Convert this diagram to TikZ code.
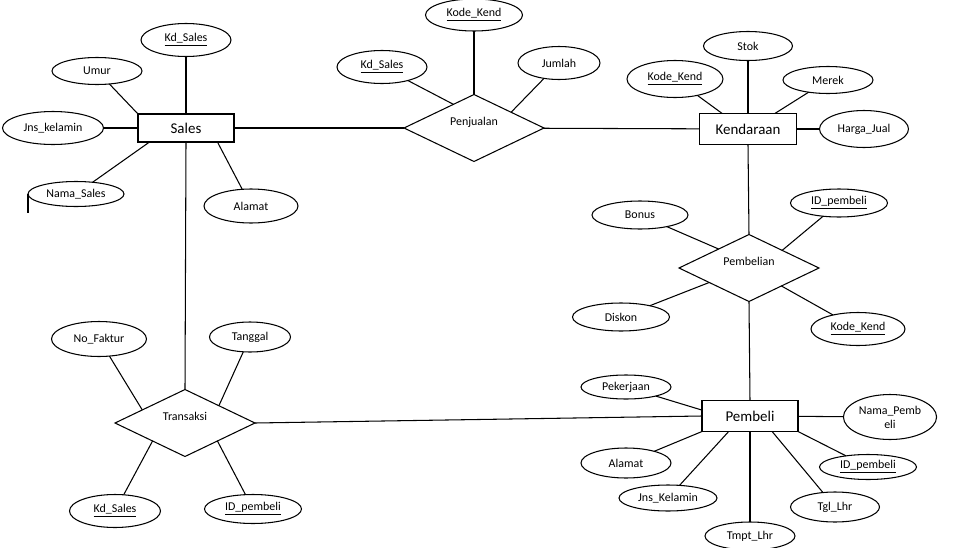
\documentclass[tikz,border=0pt]{standalone}
\usepackage{fontspec}
\setmainfont{Carlito}
\usepackage{tikz}
\usetikzlibrary{shapes.geometric}

\begin{document}
\begin{tikzpicture}[
    x=0.02cm, y=-0.02cm,
    line width=0.6pt,
    entity/.style={draw, rectangle, outer sep=0pt, font=\fontsize{8.5}{10}\selectfont},
    attr/.style={draw, ellipse, inner sep=1pt, outer sep=0pt, align=center,
      font=\fontsize{6.8}{8}\selectfont},
    rel/.style={draw, diamond, aspect=2, inner sep=0pt, outer sep=0pt,
      minimum width=2.8cm, minimum height=1.34cm, text depth=0.26cm,
      font=\fontsize{6.8}{8}\selectfont},
    sz/.style 2 args={minimum width=#1*0.02cm, minimum height=#2*0.02cm}
]
\useasboundingbox (0,0) rectangle (961,548);

\node (sales) [entity, sz={96}{28}] at (186,128) {Sales};
\node (kend) [entity, sz={97}{31}] at (748,129) {Kendaraan};
\node (pembeli) [entity, sz={96}{31}] at (750,416) {Pembeli};

\node (penjualan) [rel] at (474,128) {Penjualan};
\node (pembelian) [rel] at (749,268) {Pembelian};
\node (transaksi) [rel] at (185,423) {Transaksi};

\node (s_kd) [attr, sz={90}{33}] at (186,40) {\underline{Kd\_Sales}};
\node (s_umur) [attr, sz={90}{27}] at (97,71) {Umur};
\node (s_jns) [attr, sz={101}{33}] at (53,128) {Jns\_kelamin};
\node (s_nama) [attr, sz={96}{25}] at (76,194) {Nama\_Sales};
\node (s_alamat) [attr, sz={94}{34}] at (251,206) {Alamat};

\node (p_kode) [attr, sz={97}{32}] at (474,15) {\underline{Kode\_Kend}};
\node (p_kd) [attr, sz={90}{33}] at (382,67) {\underline{Kd\_Sales}};
\node (p_jumlah) [attr, sz={82}{33}] at (559,63) {Jumlah};

\node (k_stok) [attr, sz={89}{29}] at (748,46) {Stok};
\node (k_kode) [attr, sz={96}{37}] at (675,79) {\underline{Kode\_Kend}};
\node (k_merek) [attr, sz={90}{27}] at (828,80) {Merek};
\node (k_harga) [attr, sz={89}{37}] at (864,129) {Harga\_Jual};

\node (b_bonus) [attr, sz={96}{28}] at (640,215) {Bonus};
\node (b_id) [attr, sz={97}{28}] at (839,203) {\underline{ID\_pembeli}};
\node (b_diskon) [attr, sz={97}{28}] at (621,317) {Diskon};
\node (b_kode) [attr, sz={94}{33}] at (858,329) {\underline{Kode\_Kend}};

\node (e_kerja) [attr, sz={90}{24}] at (626,387) {Pekerjaan};
\node (e_nama) [attr, sz={84}{45}] at (890,417) {Nama\_Pemb\\eli};
\node (e_alamat) [attr, sz={90}{30}] at (626,463) {Alamat};
\node (e_jns) [attr, sz={98}{26}] at (668,498) {Jns\_Kelamin};
\node (e_tmpt) [attr, sz={90}{28}] at (750,536) {Tmpt\_Lhr};
\node (e_tgl) [attr, sz={89}{30}] at (835,507) {Tgl\_Lhr};
\node (e_id) [attr, sz={97}{25}] at (868,467) {\underline{ID\_pembeli}};

\node (t_faktur) [attr, sz={95}{35}] at (99,339) {No\_Faktur};
\node (t_tgl) [attr, sz={81}{30}] at (250,337) {Tanggal};
\node (t_kd) [attr, sz={91}{33}] at (115,511) {\underline{Kd\_Sales}};
\node (t_id) [attr, sz={97}{29}] at (253,509) {\underline{ID\_pembeli}};

\draw (sales) -- (penjualan);
\draw (penjualan) -- (kend);
\draw (sales.south) -- (transaksi.north);
\draw (kend.south) -- (pembelian.north);
\draw (pembelian.south) -- (pembeli.north);
\draw (transaksi.east) -- (pembeli.west);

\draw (s_kd) -- (sales);
\draw (s_umur) -- (sales.north west);
\draw (s_jns) -- (sales);
\draw (s_nama) -- (sales.201);
\draw (s_alamat) -- (sales.-24);
\draw[line width=1.2pt] (s_nama.west) -- ++(0,19);

\draw (p_kode) -- (penjualan);
\draw (p_kd) -- (penjualan.131);
\draw (p_jumlah) -- (penjualan.23);

\draw (k_stok) -- (kend);
\draw (k_kode) -- (kend.149);
\draw (k_merek) -- (kend.30);
\draw (k_harga) -- (kend);

\draw (b_bonus) -- (pembelian.148);
\draw (b_id) -- (pembelian.28);
\draw (b_diskon) -- (pembelian.200);
\draw (b_kode) -- (pembelian.-29);

\draw (e_kerja) -- (pembeli.173);
\draw (e_nama) -- (pembeli);
\draw (e_alamat) -- (pembeli.south west);
\draw (e_jns) -- (pembeli.216);
\draw (e_tmpt) -- (pembeli);
\draw (e_tgl) -- (pembeli.-35);
\draw (e_id) -- (pembeli.south east);

\draw (t_faktur) -- (transaksi.163);
\draw (t_tgl) -- (transaksi.27);
\draw (t_kd) -- (transaksi.209);
\draw (t_id) -- (transaksi.-29);
\end{tikzpicture}
\end{document}
